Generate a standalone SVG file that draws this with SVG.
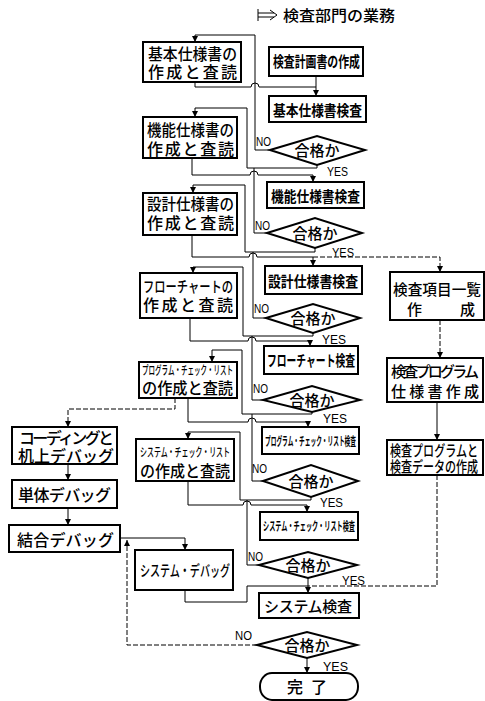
<svg xmlns="http://www.w3.org/2000/svg" width="485" height="701" viewBox="0 0 485 701">
<defs>
<marker id="ar" markerUnits="userSpaceOnUse" markerWidth="7" markerHeight="7" refX="6" refY="3" orient="auto">
<path d="M0,0 L6,3 L0,6 z" fill="#000"/>
</marker>
<style>
.b{fill:#fff;stroke:#000;stroke-width:2}
.l{fill:none;stroke:#000;stroke-width:1}
.d{fill:none;stroke:#000;stroke-width:1;stroke-dasharray:5 2}
text{font-family:"Noto Sans CJK JP","Noto Sans CJK SC",sans-serif;fill:#000;font-size:16px;font-weight:500}
.s{font-size:15px}
.t{font-size:12px}
.k{font-weight:bold}
.n{font-family:"Liberation Sans",Arial,sans-serif;font-size:13px;font-weight:normal}
.m{text-anchor:middle}
</style>
</defs>
<rect width="485" height="701" fill="#fff"/>

<g id="legend">
<path class="l" d="M258,9 V21 M258,13 H274 M258,17 H274 M270,10 L277,15 L270,20" stroke-width="1.2"/>
<text x="283" y="21" class="s" textLength="112" lengthAdjust="spacingAndGlyphs">検査部門の業務</text>
</g>

<g id="connectors">
<path class="l" d="M316,76 V96" marker-end="url(#ar)"/>
<path class="l" d="M195,82 V87 H251 A4,4 0 0 1 259,87 H316"/>
<path class="l" d="M269,150 H255 V35 H195 V42" marker-end="url(#ar)"/>
<path class="l" d="M317,165 V168 H247 V108 H195 V117" marker-end="url(#ar)"/>
<path class="l" d="M267,233 H254 V168"/>
<path class="l" d="M192,158 V175 H250 A4,4 0 0 1 258,175 H313 V182" marker-end="url(#ar)"/>
<path class="l" d="M315,248 V252 H245 V185 H193 V193" marker-end="url(#ar)"/>
<path class="l" d="M266,318 H253 V252"/>
<path class="l" d="M192,235 V257 H249 A4,4 0 0 1 257,257 H313 V266" marker-end="url(#ar)"/>
<path class="d" d="M313,257 H440 V272" marker-end="url(#ar)"/>
<path class="l" d="M313,333 V336 H243 V267 H193 V273" marker-end="url(#ar)"/>
<path class="l" d="M263,400 H252 V336"/>
<path class="l" d="M190,318 V341 H248 A4,4 0 0 1 256,341 H310 V346" marker-end="url(#ar)"/>
<path class="l" d="M312,412 V414 H242 V350 H212 V362" marker-end="url(#ar)"/>
<path class="l" d="M263,481 H252 V414"/>
<path class="l" d="M188,398 V422 H248 A4,4 0 0 1 256,422 H308 V427" marker-end="url(#ar)"/>
<path class="d" d="M175,398 V409 H68 V427" marker-end="url(#ar)"/>
<path class="l" d="M311,497 V500 H240 V432 H188 V439" marker-end="url(#ar)"/>
<path class="l" d="M259,565 H247 V500"/>
<path class="l" d="M188,481 V505 H243 A4,4 0 0 1 251,505 H307 V512" marker-end="url(#ar)"/>
<path class="l" d="M68,464 V480" marker-end="url(#ar)"/>
<path class="l" d="M68,508 V525" marker-end="url(#ar)"/>
<path class="l" d="M120,538 H185 V550" marker-end="url(#ar)"/>
<path class="d" d="M257,645 H127 V540" marker-end="url(#ar)"/>
<path class="l" d="M185,590 V602 H247 V586 H307"/>
<path class="l" d="M308,578 V593" marker-end="url(#ar)"/>
<path class="d" d="M437,475 V586 H307"/>
<path class="d" d="M440,320 V358" marker-end="url(#ar)"/>
<path class="l" d="M437,402 V440" marker-end="url(#ar)"/>
<path class="l" d="M307,658 V673" marker-end="url(#ar)"/>
</g>

<g id="b1"><rect class="b" x="143" y="42" width="98" height="40"/>
<text x="148" y="60" textLength="89" lengthAdjust="spacingAndGlyphs">基本仕様書の</text>
<text x="148" y="78" textLength="89" lengthAdjust="spacing">作成と査読</text></g>
<g id="b2"><rect class="b" x="143" y="117" width="94" height="41"/>
<text x="147" y="136" textLength="87" lengthAdjust="spacingAndGlyphs">機能仕様書の</text>
<text x="147" y="155" textLength="87" lengthAdjust="spacing">作成と査読</text></g>
<g id="b3"><rect class="b" x="143" y="193" width="94" height="42"/>
<text x="147" y="210" textLength="87" lengthAdjust="spacingAndGlyphs">設計仕様書の</text>
<text x="147" y="229" textLength="87" lengthAdjust="spacing">作成と査読</text></g>
<g id="b4"><rect class="b" x="140" y="273" width="97" height="45"/>
<text x="143" y="292" class="s" textLength="90" lengthAdjust="spacingAndGlyphs">フローチャートの</text>
<text x="143" y="311" textLength="90" lengthAdjust="spacing">作成と査読</text></g>
<g id="b5"><rect class="b" x="139" y="362" width="98" height="36"/>
<text x="142" y="375" class="t" textLength="91" lengthAdjust="spacingAndGlyphs">プログラム・チェック・リスト</text>
<text x="142" y="394" textLength="91" lengthAdjust="spacingAndGlyphs">の作成と査読</text></g>
<g id="b6"><rect class="b" x="136" y="439" width="98" height="42"/>
<text x="140" y="457" class="t" textLength="90" lengthAdjust="spacingAndGlyphs">システム・チェック・リスト</text>
<text x="140" y="477" textLength="90" lengthAdjust="spacingAndGlyphs">の作成と査読</text></g>

<g id="coding"><rect class="b" x="12" y="427" width="105" height="37"/>
<text x="19" y="444" textLength="95" lengthAdjust="spacing">コーディングと</text>
<text x="18" y="462" textLength="96" lengthAdjust="spacing">机上デバッグ</text></g>
<g id="unit"><rect class="b" x="12" y="480" width="105" height="28"/>
<text x="18" y="501" textLength="93" lengthAdjust="spacing">単体デバッグ</text></g>
<g id="integ"><rect class="b" x="9" y="525" width="111" height="27"/>
<text x="17" y="546" textLength="97" lengthAdjust="spacing">結合デバッグ</text></g>
<g id="sysdebug"><rect class="b" x="135" y="550" width="98" height="40"/>
<text x="140" y="576" class="s" textLength="90" lengthAdjust="spacingAndGlyphs">システム・デバッグ</text></g>

<g id="plan"><rect class="b" x="269" y="47" width="94" height="29"/>
<text x="273" y="67" class="s k" textLength="87" lengthAdjust="spacingAndGlyphs">検査計画書の作成</text></g>
<g id="i1"><rect class="b" x="269" y="96" width="97" height="26"/>
<text x="273" y="116" class="s k" textLength="89" lengthAdjust="spacingAndGlyphs">基本仕様書検査</text></g>
<g id="d1"><polygon class="b" points="270,150 317,136 365,150 317,165"/>
<text x="317" y="156" class="s m">合格か</text></g>
<g id="i2"><rect class="b" x="267" y="182" width="97" height="26"/>
<text x="271" y="202" class="s k" textLength="89" lengthAdjust="spacingAndGlyphs">機能仕様書検査</text></g>
<g id="d2"><polygon class="b" points="267,233 315,218 362,233 315,248"/>
<text x="315" y="239" class="s m">合格か</text></g>
<g id="i3"><rect class="b" x="265" y="266" width="97" height="28"/>
<text x="268" y="287" class="s k" textLength="90" lengthAdjust="spacingAndGlyphs">設計仕様書検査</text></g>
<g id="d3"><polygon class="b" points="266,318 313,304 360,318 313,333"/>
<text x="313" y="324" class="s m">合格か</text></g>
<g id="i4"><rect class="b" x="264" y="346" width="94" height="28"/>
<text x="267" y="366" class="s k" textLength="88" lengthAdjust="spacingAndGlyphs">フローチャート検査</text></g>
<g id="d4"><polygon class="b" points="263,400 312,386 360,400 312,412"/>
<text x="312" y="406" class="s m">合格か</text></g>
<g id="i5"><rect class="b" x="262" y="427" width="97" height="27"/>
<text x="265" y="446" class="t k" textLength="91" lengthAdjust="spacingAndGlyphs">プログラム・チェック・リスト検査</text></g>
<g id="d5"><polygon class="b" points="263,481 311,465 358,481 311,497"/>
<text x="311" y="487" class="s m">合格か</text></g>
<g id="i6"><rect class="b" x="260" y="512" width="98" height="28"/>
<text x="263" y="531" class="t k" textLength="92" lengthAdjust="spacingAndGlyphs">システム・チェック・リスト検査</text></g>
<g id="d6"><polygon class="b" points="259,565 308,552 357,565 308,578"/>
<text x="308" y="571" class="s m">合格か</text></g>
<g id="systest"><rect class="b" x="259" y="593" width="100" height="25"/>
<text x="264" y="612" class="s" textLength="88" lengthAdjust="spacing">システム検査</text></g>
<g id="d7"><polygon class="b" points="257,645 307,632 357,645 307,658"/>
<text x="307" y="651" class="s m">合格か</text></g>
<g id="end"><rect class="b" x="260" y="673" width="98" height="27" rx="12" ry="13"/>
<text x="307" y="693" class="m" textLength="40" lengthAdjust="spacing">完　了</text></g>

<g id="r1"><rect class="b" x="390" y="272" width="94" height="48"/>
<text x="393" y="295" class="s" textLength="88" lengthAdjust="spacingAndGlyphs">検査項目一覧</text>
<text x="407" y="315" class="s">作</text><text x="460" y="315" class="s">成</text></g>
<g id="r2"><rect class="b" x="387" y="358" width="96" height="44"/>
<text x="391" y="377" class="s" textLength="88" lengthAdjust="spacing">検査プログラム</text>
<text x="391" y="397" class="s" textLength="88" lengthAdjust="spacing">仕様書作成</text></g>
<g id="r3"><rect class="b" x="387" y="440" width="96" height="35"/>
<text x="390" y="456" class="s" textLength="88" lengthAdjust="spacingAndGlyphs">検査プログラムと</text>
<text x="390" y="472" class="s" textLength="88" lengthAdjust="spacingAndGlyphs">検査データの作成</text></g>

<g id="labels">
<text x="256" y="146" class="n" textLength="15" lengthAdjust="spacingAndGlyphs">NO</text>
<text x="327" y="176" class="n" textLength="21" lengthAdjust="spacingAndGlyphs">YES</text>
<text x="255" y="230" class="n" textLength="15" lengthAdjust="spacingAndGlyphs">NO</text>
<text x="332" y="257" class="n" textLength="22" lengthAdjust="spacingAndGlyphs">YES</text>
<text x="254" y="313" class="n" textLength="15" lengthAdjust="spacingAndGlyphs">NO</text>
<text x="322" y="344" class="n" textLength="24" lengthAdjust="spacingAndGlyphs">YES</text>
<text x="253" y="393" class="n" textLength="15" lengthAdjust="spacingAndGlyphs">NO</text>
<text x="323" y="423" class="n" textLength="24" lengthAdjust="spacingAndGlyphs">YES</text>
<text x="252" y="473" class="n" textLength="15" lengthAdjust="spacingAndGlyphs">NO</text>
<text x="320" y="507" class="n" textLength="23" lengthAdjust="spacingAndGlyphs">YES</text>
<text x="248" y="561" class="n" textLength="15" lengthAdjust="spacingAndGlyphs">NO</text>
<text x="342" y="585" class="n" textLength="23" lengthAdjust="spacingAndGlyphs">YES</text>
<text x="235" y="640" class="n" textLength="17" lengthAdjust="spacingAndGlyphs">NO</text>
<text x="323" y="671" class="n" textLength="25" lengthAdjust="spacingAndGlyphs">YES</text>
</g>
</svg>
